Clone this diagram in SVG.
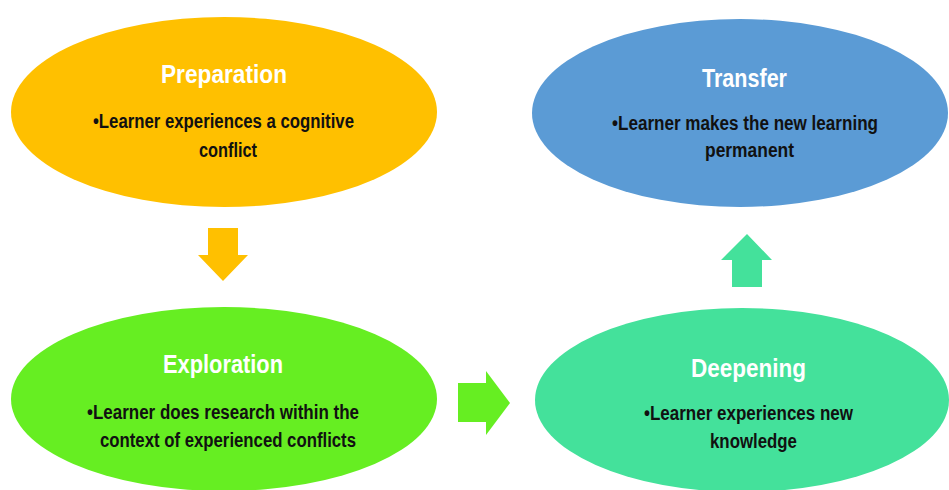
<svg xmlns="http://www.w3.org/2000/svg" width="949" height="490" viewBox="0 0 949 490">
<style>
.title{font-family:"Liberation Sans",Arial,sans-serif;font-weight:bold;font-size:25px;fill:#ffffff}
.body{font-family:"Liberation Sans",Arial,sans-serif;font-weight:bold;font-size:19.5px;fill:#111111}
</style>
<rect width="949" height="490" fill="#ffffff"/>
<g id="connectors">
<path d="M208,228 H238 V255 H248 L223,281 L198,255 H208 Z" fill="#FFC000"/>
<path d="M458,383 H486 V371 L510,403 L486,435 V422 H458 Z" fill="#66EE22"/>
<path d="M732,287 V260 H721 L747,234 L772,260 H762 V287 Z" fill="#44E19B"/>
</g>
<g id="preparation">
<ellipse cx="224" cy="112" rx="213" ry="95" fill="#FFC000"/>
<text class="title" x="161" y="83" textLength="126" lengthAdjust="spacingAndGlyphs">Preparation</text>
<text class="body" x="93" y="128" textLength="261" lengthAdjust="spacingAndGlyphs">•Learner experiences a cognitive</text>
<text class="body" x="199" y="157" textLength="58" lengthAdjust="spacingAndGlyphs">conflict</text>
</g>
<g id="transfer">
<ellipse cx="740" cy="113" rx="208" ry="94" fill="#5B9BD5"/>
<text class="title" x="702" y="87" textLength="85" lengthAdjust="spacingAndGlyphs">Transfer</text>
<text class="body" x="612" y="130" textLength="266" lengthAdjust="spacingAndGlyphs">•Learner makes the new learning</text>
<text class="body" x="705" y="157" textLength="89" lengthAdjust="spacingAndGlyphs">permanent</text>
</g>
<g id="exploration">
<ellipse cx="224" cy="399" rx="213" ry="92" fill="#66EE22"/>
<text class="title" x="163" y="373" textLength="120" lengthAdjust="spacingAndGlyphs">Exploration</text>
<text class="body" x="87" y="419" textLength="272" lengthAdjust="spacingAndGlyphs">•Learner does research within the</text>
<text class="body" x="100" y="447" textLength="256" lengthAdjust="spacingAndGlyphs">context of experienced conflicts</text>
</g>
<g id="deepening">
<ellipse cx="742" cy="400" rx="207" ry="92" fill="#44E19B"/>
<text class="title" x="691" y="377" textLength="115" lengthAdjust="spacingAndGlyphs">Deepening</text>
<text class="body" x="644" y="420" textLength="209" lengthAdjust="spacingAndGlyphs">•Learner experiences new</text>
<text class="body" x="710" y="448" textLength="87" lengthAdjust="spacingAndGlyphs">knowledge</text>
</g>
</svg>
